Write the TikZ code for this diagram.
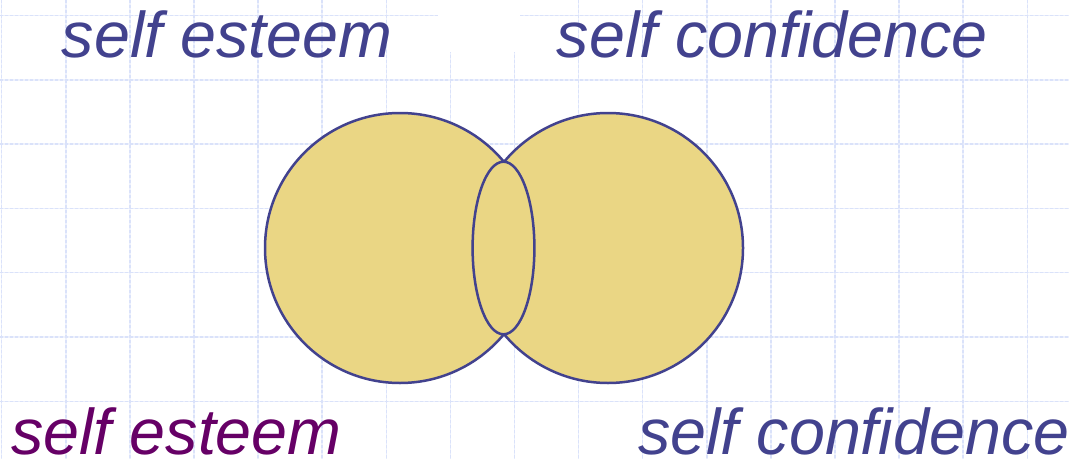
\documentclass[tikz,border=0pt]{standalone}
\usepackage{fontspec}
\setmainfont{Liberation Sans}
\definecolor{gridc}{RGB}{218,226,250}
\definecolor{ringc}{RGB}{66,66,142}
\definecolor{lensfill}{RGB}{234,214,132}
\definecolor{esteemc}{RGB}{102,0,102}

\begin{document}
\begin{tikzpicture}[x=0.5pt,y=-0.5pt,line cap=round,line join=round]
\tikzset{lab/.style={font=\fontsize{32.3}{36}\selectfont\itshape,inner sep=0pt,anchor=base west}, gridline/.style={gridc,line width=0.75pt,dash pattern=on 1.5pt off 1pt}, ring/.style={draw=ringc,fill=lensfill,line width=1.25pt}}

\useasboundingbox (0,0) rectangle (1069,460);
\fill[white] (0,0) rectangle (1069,460);
\foreach \xx in {0,...,16} {
  \draw[gridline] (1.7+64.1*\xx,0)--(1.7+64.1*\xx,460);
}
\foreach \yy in {0,...,6} {
  \draw[gridline] (0,15.5+64.3*\yy)--(1069,15.5+64.3*\yy);
}
\fill[white] (438,0) rectangle (520,52);

\coordinate (L) at (400,248);
\coordinate (R) at (608,248);
\coordinate (M) at (503.5,248);
\draw[ring] (L) circle (135);
\draw[ring] (R) circle (135);
\draw[ring] (M) ellipse [x radius=30.9,y radius=86.3];

\node[lab,text=ringc] (esteemTop) at (61.5,57.5) {self esteem};
\node[lab,text=ringc] (confTop) at (556.5,57.5) {self confidence};
\node[lab,text=esteemc] (esteemBot) at (11,454) {self esteem};
\node[lab,text=ringc] (confBot) at (638,454.5) {self confidence};
\end{tikzpicture}
\end{document}
